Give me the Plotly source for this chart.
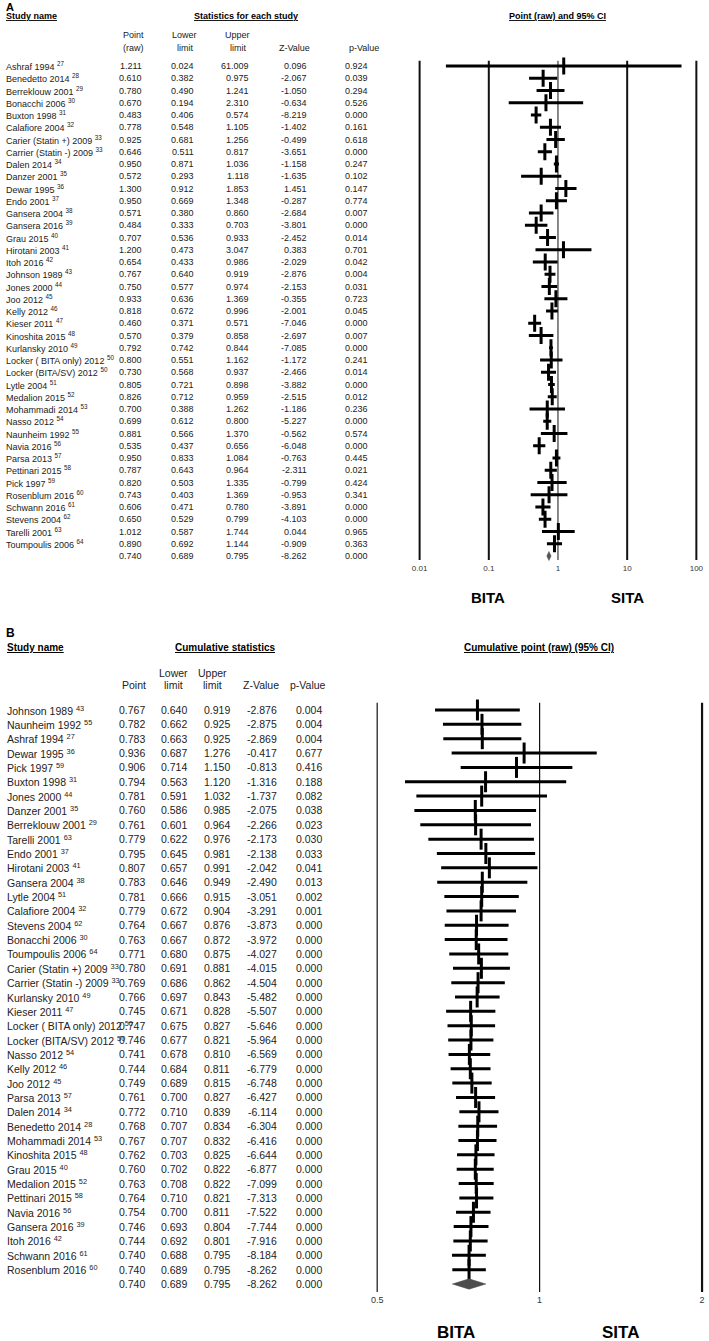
import plotly.graph_objects as go

W, H = 709, 1341
FONT = "Arial, Liberation Sans, sans-serif"

# ---------------- Panel A data ----------------
study_a = ["Ashraf 1994", "Benedetto 2014", "Berreklouw 2001", "Bonacchi 2006", "Buxton 1998",
           "Calafiore 2004", "Carier (Statin +) 2009", "Carrier (Statin -) 2009", "Dalen 2014",
           "Danzer 2001", "Dewar 1995", "Endo 2001", "Gansera 2004", "Gansera 2016", "Grau 2015",
           "Hirotani 2003", "Itoh 2016", "Johnson 1989", "Jones 2000", "Joo 2012", "Kelly 2012",
           "Kieser 2011", "Kinoshita 2015", "Kurlansky 2010", "Locker ( BITA only) 2012",
           "Locker (BITA/SV) 2012", "Lytle 2004", "Medalion 2015", "Mohammadi 2014", "Nasso 2012",
           "Naunheim 1992", "Navia 2016", "Parsa 2013", "Pettinari 2015", "Pick 1997",
           "Rosenblum 2016", "Schwann 2016", "Stevens 2004", "Tarelli 2001", "Toumpoulis 2006"]
ref_a = ["27", "28", "29", "30", "31", "32", "33", "33", "34", "35", "36", "37", "38", "39", "40",
         "41", "42", "43", "44", "45", "46", "47", "48", "49", "50", "50", "51", "52", "53", "54",
         "55", "56", "57", "58", "59", "60", "61", "62", "63", "64"]
point_a = [1.211, 0.610, 0.780, 0.670, 0.483, 0.778, 0.925, 0.646, 0.950, 0.572, 1.300, 0.950,
           0.571, 0.484, 0.707, 1.200, 0.654, 0.767, 0.750, 0.933, 0.818, 0.460, 0.570, 0.792,
           0.800, 0.730, 0.805, 0.826, 0.700, 0.699, 0.881, 0.535, 0.950, 0.787, 0.820, 0.743,
           0.606, 0.650, 1.012, 0.890]
lower_a = [0.024, 0.382, 0.490, 0.194, 0.406, 0.548, 0.681, 0.511, 0.871, 0.293, 0.912, 0.669,
           0.380, 0.333, 0.536, 0.473, 0.433, 0.640, 0.577, 0.636, 0.672, 0.371, 0.379, 0.742,
           0.551, 0.568, 0.721, 0.712, 0.388, 0.612, 0.566, 0.437, 0.833, 0.643, 0.503, 0.403,
           0.471, 0.529, 0.587, 0.692]
upper_a = [61.009, 0.975, 1.241, 2.310, 0.574, 1.105, 1.256, 0.817, 1.036, 1.118, 1.853, 1.348,
           0.860, 0.703, 0.933, 3.047, 0.986, 0.919, 0.974, 1.369, 0.996, 0.571, 0.858, 0.844,
           1.162, 0.937, 0.898, 0.959, 1.262, 0.800, 1.370, 0.656, 1.084, 0.964, 1.335, 1.369,
           0.780, 0.799, 1.744, 1.144]
zval_a = [0.096, -2.067, -1.050, -0.634, -8.219, -1.402, -0.499, -3.651, -1.158, -1.635, 1.451,
          -0.287, -2.684, -3.801, -2.452, 0.383, -2.029, -2.876, -2.153, -0.355, -2.001, -7.046,
          -2.697, -7.085, -1.172, -2.466, -3.882, -2.515, -1.186, -5.227, -0.562, -6.048, -0.763,
          -2.311, -0.799, -0.953, -3.891, -4.103, 0.044, -0.909]
pval_a = [0.924, 0.039, 0.294, 0.526, 0.000, 0.161, 0.618, 0.000, 0.247, 0.102, 0.147, 0.774,
          0.007, 0.000, 0.014, 0.701, 0.042, 0.004, 0.031, 0.723, 0.045, 0.000, 0.007, 0.000,
          0.241, 0.014, 0.000, 0.012, 0.236, 0.000, 0.574, 0.000, 0.445, 0.021, 0.424, 0.341,
          0.000, 0.000, 0.965, 0.363]
summary_a = [0.740, 0.689, 0.795, -8.262, 0.000]
ticks_a = [0.01, 0.1, 1, 10, 100]
tick_text_a = ["0.01", "0.1", "1", "10", "100"]

# ---------------- Panel B data ----------------
study_b = ["Johnson 1989", "Naunheim 1992", "Ashraf 1994", "Dewar 1995", "Pick 1997", "Buxton 1998",
           "Jones 2000", "Danzer 2001", "Berreklouw 2001", "Tarelli 2001", "Endo 2001",
           "Hirotani 2003", "Gansera 2004", "Lytle 2004", "Calafiore 2004", "Stevens 2004",
           "Bonacchi 2006", "Toumpoulis 2006", "Carier (Statin +) 2009", "Carrier (Statin -) 2009",
           "Kurlansky 2010", "Kieser 2011", "Locker ( BITA only) 2012", "Locker (BITA/SV) 2012",
           "Nasso 2012", "Kelly 2012", "Joo 2012", "Parsa 2013", "Dalen 2014", "Benedetto 2014",
           "Mohammadi 2014", "Kinoshita 2015", "Grau 2015", "Medalion 2015", "Pettinari 2015",
           "Navia 2016", "Gansera 2016", "Itoh 2016", "Schwann 2016", "Rosenblum 2016"]
ref_b = ["43", "55", "27", "36", "59", "31", "44", "35", "29", "63", "37", "41", "38", "51", "32",
         "62", "30", "64", "33", "33", "49", "47", "50", "50", "54", "46", "45", "57", "34", "28",
         "53", "48", "40", "52", "58", "56", "39", "42", "61", "60"]
point_b = [0.767, 0.782, 0.783, 0.936, 0.906, 0.794, 0.781, 0.760, 0.761, 0.779, 0.795, 0.807,
           0.783, 0.781, 0.779, 0.764, 0.763, 0.771, 0.780, 0.769, 0.766, 0.745, 0.747, 0.746,
           0.741, 0.744, 0.749, 0.761, 0.772, 0.768, 0.767, 0.762, 0.760, 0.763, 0.764, 0.754,
           0.746, 0.744, 0.740, 0.740]
lower_b = [0.640, 0.662, 0.663, 0.687, 0.714, 0.563, 0.591, 0.586, 0.601, 0.622, 0.645, 0.657,
           0.646, 0.666, 0.672, 0.667, 0.667, 0.680, 0.691, 0.686, 0.697, 0.671, 0.675, 0.677,
           0.678, 0.684, 0.689, 0.700, 0.710, 0.707, 0.707, 0.703, 0.702, 0.708, 0.710, 0.700,
           0.693, 0.692, 0.688, 0.689]
upper_b = [0.919, 0.925, 0.925, 1.276, 1.150, 1.120, 1.032, 0.985, 0.964, 0.976, 0.981, 0.991,
           0.949, 0.915, 0.904, 0.876, 0.872, 0.875, 0.881, 0.862, 0.843, 0.828, 0.827, 0.821,
           0.810, 0.811, 0.815, 0.827, 0.839, 0.834, 0.832, 0.825, 0.822, 0.822, 0.821, 0.811,
           0.804, 0.801, 0.795, 0.795]
zval_b = [-2.876, -2.875, -2.869, -0.417, -0.813, -1.316, -1.737, -2.075, -2.266, -2.173, -2.138,
          -2.042, -2.490, -3.051, -3.291, -3.873, -3.972, -4.027, -4.015, -4.504, -5.482, -5.507,
          -5.646, -5.964, -6.569, -6.779, -6.748, -6.427, -6.114, -6.304, -6.416, -6.644, -6.877,
          -7.099, -7.313, -7.522, -7.744, -7.916, -8.184, -8.262]
pval_b = [0.004, 0.004, 0.004, 0.677, 0.416, 0.188, 0.082, 0.038, 0.023, 0.030, 0.033, 0.041,
          0.013, 0.002, 0.001, 0.000, 0.000, 0.000, 0.000, 0.000, 0.000, 0.000, 0.000, 0.000,
          0.000, 0.000, 0.000, 0.000, 0.000, 0.000, 0.000, 0.000, 0.000, 0.000, 0.000, 0.000,
          0.000, 0.000, 0.000, 0.000]
summary_b = [0.740, 0.689, 0.795, -8.262, 0.000]
ticks_b = [0.5, 1, 2]
tick_text_b = ["0.5", "1", "2"]


def px(v):
    return v / W


def py(v):
    return 1 - v / H


fig = go.Figure()
annotations = []


def ann(text, x, y, yref="paper", anchor="left", size=9, color="#222", bold=False, under=False):
    f = dict(family=FONT, size=size, color=color)
    if under:
        f["lineposition"] = "under"
    annotations.append(dict(
        text=("<b>%s</b>" % text) if bold else text,
        x=px(x), y=(py(y) if yref == "paper" else y), xref="paper", yref=yref,
        xanchor=anchor, yanchor="middle", showarrow=False, font=f))


def fmt(v):
    return "%.3f" % v


# ---------- Panel A geometry ----------
A_row0, A_step = 66, 12.25
A_top, A_bot = 50, 562
yA_range = [(A_bot - A_row0) / A_step, (A_top - A_row0) / A_step]
nA = len(study_a)

# ---------- Panel B geometry ----------
B_row0, B_step = 710, 14.35
B_top, B_bot = 695, 1293
yB_range = [(B_bot - B_row0) / B_step, (B_top - B_row0) / B_step]
nB = len(study_b)

# ---------- Panel A forest ----------
xs, ys = [], []
for i in range(nA):
    xs += [lower_a[i], upper_a[i], None]
    ys += [i, i, None]
fig.add_trace(go.Scatter(x=xs, y=ys, mode="lines", line=dict(color="black", width=3),
                         xaxis="x", yaxis="y", hoverinfo="skip", showlegend=False))
fig.add_trace(go.Scatter(x=point_a, y=list(range(nA)), mode="markers",
                         marker=dict(symbol="line-ns", size=12, line=dict(color="black", width=3)),
                         xaxis="x", yaxis="y", showlegend=False))
sp, sl, su = summary_a[0], summary_a[1], summary_a[2]
fig.add_trace(go.Scatter(x=[sl, sp, su, sp, sl], y=[nA, nA - 0.37, nA, nA + 0.37, nA],
                         mode="lines", fill="toself", fillcolor="#555555",
                         line=dict(color="#555555", width=0.5), xaxis="x", yaxis="y",
                         showlegend=False))

# ---------- Panel B forest ----------
xs, ys = [], []
for i in range(nB):
    xs += [lower_b[i], upper_b[i], None]
    ys += [i, i, None]
fig.add_trace(go.Scatter(x=xs, y=ys, mode="lines", line=dict(color="black", width=3),
                         xaxis="x2", yaxis="y2", hoverinfo="skip", showlegend=False))
fig.add_trace(go.Scatter(x=point_b, y=list(range(nB)), mode="markers",
                         marker=dict(symbol="line-ns", size=15, line=dict(color="black", width=3)),
                         xaxis="x2", yaxis="y2", showlegend=False))
sp, sl, su = summary_b[0], summary_b[1], summary_b[2]
fig.add_trace(go.Scatter(x=[sl, sp, su, sp, sl], y=[nB, nB - 0.36, nB, nB + 0.36, nB],
                         mode="lines", fill="toself", fillcolor="#4d4d4d",
                         line=dict(color="#4d4d4d", width=0.5), xaxis="x2", yaxis="y2",
                         showlegend=False))

# reference lines
shapes = []
for v, w in zip(ticks_a, [2, 2, 1, 2, 2]):
    shapes.append(dict(type="line", xref="x", yref="y", x0=v, x1=v, y0=-0.42, y1=nA + 0.33,
                       line=dict(color="#111", width=w), layer="below"))
for v, w in zip(ticks_b, [1.2, 1.2, 2.2]):
    shapes.append(dict(type="line", xref="x2", yref="y2", x0=v, x1=v, y0=-0.5, y1=nB + 0.55,
                       line=dict(color="#111", width=w), layer="below"))

# ---------- Panel A text ----------
ann("A", 2, 7, size=11, color="black", bold=True)
ann("Study name", 2, 16, size=9, color="black", bold=True, under=True)
ann("Statistics for each study", 245, 16, anchor="center", size=9, color="black", bold=True, under=True)
ann("Point (raw) and 95% CI", 559, 16, anchor="center", size=9, color="black", bold=True, under=True)
ann("Point", 132, 35, anchor="center")
ann("(raw)", 132, 48, anchor="center")
ann("Lower", 184, 35, anchor="center")
ann("limit", 184, 48, anchor="center")
ann("Upper", 237, 35, anchor="center")
ann("limit", 237, 48, anchor="center")
ann("Z-Value", 294, 48, anchor="center")
ann("p-Value", 364, 48, anchor="center")

colsA = [143, 195, 250, 309, 370]
for i in range(nA):
    ann("%s <sup>%s</sup>" % (study_a[i], ref_a[i]), 2, i, yref="y")
    for cx, v in zip(colsA, [point_a[i], lower_a[i], upper_a[i], zval_a[i], pval_a[i]]):
        ann(fmt(v), cx, i, yref="y", anchor="right")
for cx, v in zip(colsA, summary_a):
    ann(fmt(v), cx, nA, yref="y", anchor="right")

ann("BITA", 489, 598, anchor="center", size=15, color="black", bold=True)
ann("SITA", 629, 598, anchor="center", size=15, color="black", bold=True)

# ---------- Panel B text ----------
ann("B", 2, 633, size=12, color="black", bold=True)
ann("Study name", 3, 647, size=10, color="black", bold=True, under=True)
ann("Cumulative statistics", 224, 647, anchor="center", size=10, color="black", bold=True, under=True)
ann("Cumulative point (raw) (95% CI)", 540, 647, anchor="center", size=10, color="black", bold=True, under=True)
ann("Lower", 172, 673, anchor="center", size=10.5)
ann("limit", 172, 685, anchor="center", size=10.5)
ann("Upper", 212, 673, anchor="center", size=10.5)
ann("limit", 212, 685, anchor="center", size=10.5)
ann("Point", 133, 685, anchor="center", size=10.5)
ann("Z-Value", 260, 685, anchor="center", size=10.5)
ann("p-Value", 308, 685, anchor="center", size=10.5)

colsB = [146, 188, 231, 279, 324]
for i in range(nB):
    ann("%s <sup>%s</sup>" % (study_b[i], ref_b[i]), 3, i, yref="y2", size=10.5)
    for cx, v in zip(colsB, [point_b[i], lower_b[i], upper_b[i], zval_b[i], pval_b[i]]):
        ann(fmt(v), cx, i, yref="y2", anchor="right", size=10.5)
for cx, v in zip(colsB, summary_b):
    ann(fmt(v), cx, nB, yref="y2", anchor="right", size=10.5)

ann("BITA", 457, 1332, anchor="center", size=17, color="black", bold=True)
ann("SITA", 622, 1332, anchor="center", size=17, color="black", bold=True)

fig.update_layout(
    width=W, height=H, margin=dict(l=0, r=0, t=0, b=0),
    paper_bgcolor="white", plot_bgcolor="white", showlegend=False,
    font=dict(family=FONT, color="#222"),
    xaxis=dict(domain=[px(414), px(704)], type="log", range=[-2.086, 2.082], anchor="y",
               tickvals=ticks_a, ticktext=tick_text_a, showgrid=False, zeroline=False,
               showline=False, ticks="", tickfont=dict(size=8, color="#333")),
    yaxis=dict(domain=[py(A_bot), py(A_top)], range=yA_range, visible=False, anchor="x"),
    xaxis2=dict(domain=[px(370), px(709)], type="log", range=[-0.3145, 0.3102], anchor="y2",
                tickvals=ticks_b, ticktext=tick_text_b, showgrid=False, zeroline=False,
                showline=False, ticks="", tickfont=dict(size=9, color="#333")),
    yaxis2=dict(domain=[py(B_bot), py(B_top)], range=yB_range, visible=False, anchor="x2"),
    annotations=annotations, shapes=shapes,
)

fig.write_html("out.html", config={"displayModeBar": False},
               post_script="document.body.style.margin='0';document.body.style.overflow='hidden';")
